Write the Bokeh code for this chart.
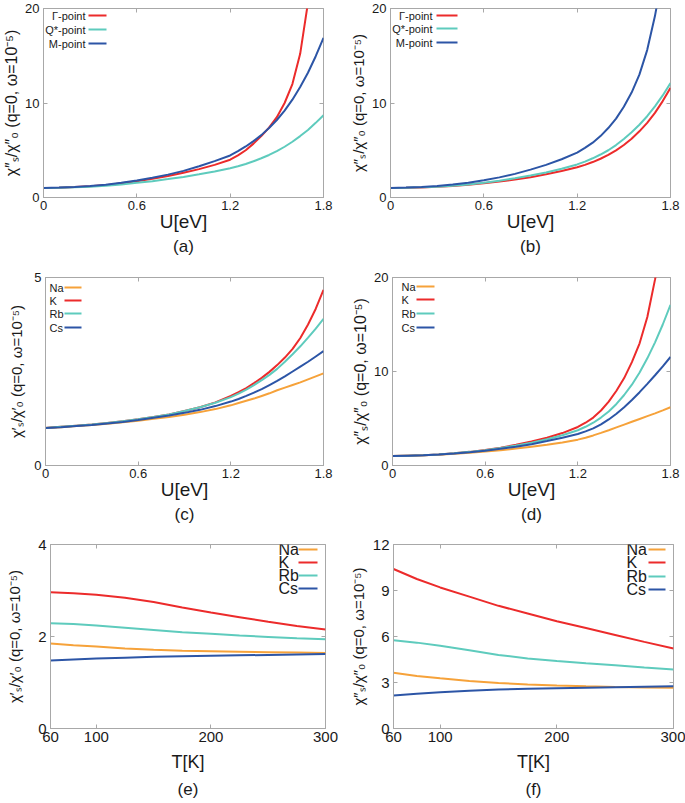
from bokeh.plotting import figure
from bokeh.layouts import column, row
from bokeh.models import Range1d, FixedTicker, LinearAxis, Label, Arrow, Title
from bokeh.embed import file_html
from bokeh.resources import INLINE

# ---------------- data ----------------
U_FULL = [0.0, 0.1, 0.2, 0.3, 0.4, 0.5, 0.6, 0.7, 0.8, 0.9, 1.0, 1.1,
          1.2, 1.25, 1.3, 1.35, 1.4, 1.45, 1.5, 1.55, 1.6, 1.65, 1.7, 1.75, 1.8]
U_TO_170 = [0.0, 0.1, 0.2, 0.3, 0.4, 0.5, 0.6, 0.7, 0.8, 0.9, 1.0, 1.1,
            1.2, 1.25, 1.3, 1.35, 1.4, 1.45, 1.5, 1.55, 1.6, 1.65, 1.7]
U_TO_172 = [0.0, 0.1, 0.2, 0.3, 0.4, 0.5, 0.6, 0.7, 0.8, 0.9, 1.0, 1.1,
            1.2, 1.25, 1.3, 1.35, 1.4, 1.45, 1.5, 1.55, 1.6, 1.65, 1.7, 1.72]

# (a) chi''_s / chi''_0 at symmetry points
a_gamma = [1.0, 1.04, 1.1, 1.19, 1.31, 1.5, 1.72, 1.98, 2.28, 2.62, 3.0, 3.45,
           4.0, 4.45, 5.0, 5.7, 6.5, 7.4, 8.5, 10.0, 12.0, 15.2, 20.6]
a_qstar = [1.0, 1.03, 1.08, 1.15, 1.25, 1.38, 1.55, 1.73, 1.95, 2.18, 2.45, 2.75,
           3.1, 3.3, 3.55, 3.83, 4.15, 4.5, 4.9, 5.37, 5.9, 6.5, 7.15, 7.9, 8.7]
a_m = [1.0, 1.05, 1.12, 1.22, 1.36, 1.56, 1.8, 2.08, 2.42, 2.82, 3.3, 3.85,
       4.45, 4.9, 5.4, 5.97, 6.6, 7.35, 8.2, 9.2, 10.35, 11.7, 13.2, 14.95, 16.9]

# (b)
b_gamma = [1.0, 1.03, 1.07, 1.13, 1.22, 1.34, 1.5, 1.69, 1.9, 2.15, 2.45, 2.8,
           3.2, 3.45, 3.75, 4.1, 4.5, 4.98, 5.55, 6.22, 7.0, 7.9, 8.95, 10.2, 11.6]
b_qstar = [1.0, 1.03, 1.08, 1.15, 1.25, 1.38, 1.57, 1.78, 2.03, 2.32, 2.65, 3.05,
           3.5, 3.8, 4.15, 4.55, 5.0, 5.55, 6.2, 6.9, 7.7, 8.6, 9.65, 10.8, 12.1]
b_m = [1.0, 1.05, 1.12, 1.22, 1.37, 1.57, 1.83, 2.13, 2.5, 2.95, 3.45, 4.05,
       4.75, 5.25, 5.8, 6.5, 7.35, 8.35, 9.6, 11.1, 13.0, 15.6, 19.2, 21.0]

# (c) chi'_s / chi'_0 for alkali dopants
c_na = [1.0, 1.02, 1.05, 1.08, 1.11, 1.15, 1.19, 1.24, 1.29, 1.35, 1.42, 1.5,
        1.6, 1.66, 1.72, 1.78, 1.85, 1.92, 2.0, 2.07, 2.14, 2.21, 2.29, 2.37, 2.45]
c_k = [1.0, 1.03, 1.06, 1.09, 1.13, 1.18, 1.23, 1.29, 1.36, 1.45, 1.55, 1.68,
       1.85, 1.95, 2.06, 2.19, 2.33, 2.49, 2.67, 2.87, 3.1, 3.39, 3.75, 4.17, 4.67]
c_rb = [1.0, 1.03, 1.06, 1.09, 1.13, 1.18, 1.23, 1.29, 1.36, 1.45, 1.55, 1.67,
        1.82, 1.91, 2.02, 2.14, 2.27, 2.41, 2.57, 2.76, 2.96, 3.17, 3.4, 3.64, 3.9]
c_cs = [1.0, 1.02, 1.05, 1.08, 1.12, 1.16, 1.21, 1.27, 1.33, 1.4, 1.48, 1.58,
        1.7, 1.77, 1.85, 1.94, 2.03, 2.14, 2.25, 2.37, 2.5, 2.63, 2.76, 2.9, 3.04]

# (d) chi''_s / chi''_0 for alkali dopants
d_na = [1.0, 1.04, 1.08, 1.15, 1.24, 1.35, 1.48, 1.63, 1.8, 1.99, 2.2, 2.45,
        2.75, 2.96, 3.2, 3.47, 3.75, 4.05, 4.35, 4.65, 4.95, 5.25, 5.55, 5.87, 6.2]
d_k = [1.0, 1.05, 1.1, 1.18, 1.3, 1.45, 1.65, 1.9, 2.2, 2.55, 2.95, 3.45,
       4.1, 4.55, 5.1, 5.85, 6.8, 7.95, 9.3, 11.0, 13.0, 15.8, 19.8, 21.5]
d_rb = [1.0, 1.05, 1.1, 1.18, 1.3, 1.45, 1.63, 1.86, 2.12, 2.43, 2.8, 3.22,
        3.75, 4.12, 4.55, 5.1, 5.75, 6.55, 7.5, 8.6, 9.9, 11.4, 13.1, 15.0, 17.1]
d_cs = [1.0, 1.05, 1.1, 1.17, 1.28, 1.41, 1.58, 1.77, 2.0, 2.27, 2.6, 2.95,
        3.35, 3.63, 3.95, 4.38, 4.9, 5.5, 6.2, 6.97, 7.8, 8.68, 9.6, 10.55, 11.55]

# (e),(f) temperature dependence
T = [60, 80, 100, 125, 150, 175, 200, 225, 250, 275, 300]
e_na = [1.85, 1.81, 1.78, 1.74, 1.71, 1.69, 1.68, 1.67, 1.66, 1.65, 1.64]
e_k = [2.96, 2.94, 2.91, 2.84, 2.75, 2.63, 2.52, 2.42, 2.32, 2.23, 2.15]
e_rb = [2.29, 2.27, 2.24, 2.19, 2.14, 2.09, 2.06, 2.02, 1.99, 1.96, 1.94]
e_cs = [1.48, 1.50, 1.52, 1.54, 1.56, 1.57, 1.58, 1.59, 1.60, 1.61, 1.62]

f_na = [3.63, 3.42, 3.27, 3.1, 2.97, 2.87, 2.8, 2.75, 2.71, 2.68, 2.65]
f_k = [10.4, 9.75, 9.2, 8.6, 8.0, 7.5, 7.0, 6.55, 6.1, 5.65, 5.22]
f_rb = [5.75, 5.6, 5.4, 5.1, 4.8, 4.57, 4.4, 4.25, 4.12, 3.98, 3.85]
f_cs = [2.16, 2.27, 2.37, 2.47, 2.54, 2.59, 2.63, 2.66, 2.69, 2.72, 2.75]

U_TICKS = [0, 0.6, 1.2, 1.8]
T_TICKS = [60, 100, 200, 300]

# ---------------- style ----------------
FONT = "Liberation Sans"
RED = "#ec2b2b"
TEAL = "#5ecbbd"
BLUE = "#2c55a6"
ORANGE = "#f6a23a"
FRAME = "#a8a8a8"
INK = "#1a1a1a"

YL2 = "χ″ₛ/χ″₀ (q=0, ω=10⁻⁵)"
YL1 = "χ′ₛ/χ′₀ (q=0, ω=10⁻⁵)"


def make_panel(w, h, borders, xr, yr, xticks, yticks, xlabel, ylabel, tag,
               tick_fs, xlab_fs, ylab_fs, yals, xals, tag_standoff):
    bl, br, bt, bb = borders
    p = figure(width=w, height=h, x_range=Range1d(*xr), y_range=Range1d(*yr),
               output_backend="svg", toolbar_location=None,
               min_border_left=bl, min_border_right=br, min_border_top=bt,
               min_border_bottom=bb, x_axis_label=xlabel, y_axis_label=ylabel)
    p.grid.visible = False
    p.outline_line_color = FRAME
    p.outline_line_width = 1
    p.background_fill_color = "white"
    p.border_fill_color = "white"
    for ax in (p.xaxis[0], p.yaxis[0]):
        ax.axis_line_color = FRAME
        ax.major_tick_line_color = FRAME
        ax.major_tick_in = 4
        ax.major_tick_out = 0
        ax.minor_tick_line_color = None
        ax.major_label_text_font = FONT
        ax.major_label_text_font_size = tick_fs
        ax.major_label_text_color = INK
        ax.axis_label_text_font = FONT
        ax.axis_label_text_font_style = "normal"
        ax.axis_label_text_color = INK
    p.xaxis[0].ticker = FixedTicker(ticks=xticks)
    p.yaxis[0].ticker = FixedTicker(ticks=yticks)
    p.xaxis[0].major_label_standoff = 3
    p.yaxis[0].major_label_standoff = 4
    p.xaxis[0].axis_label_text_font_size = xlab_fs
    p.yaxis[0].axis_label_text_font_size = ylab_fs
    p.xaxis[0].axis_label_standoff = xals
    p.yaxis[0].axis_label_standoff = yals
    # mirrored tick marks on top and right
    top = LinearAxis(ticker=FixedTicker(ticks=xticks), axis_line_color=None,
                     major_tick_line_color=FRAME, major_tick_in=4, major_tick_out=0,
                     minor_tick_line_color=None, major_label_standoff=0,
                     major_label_overrides={t: "" for t in xticks})
    right = LinearAxis(ticker=FixedTicker(ticks=yticks), axis_line_color=None,
                       major_tick_line_color=FRAME, major_tick_in=4, major_tick_out=0,
                       minor_tick_line_color=None, major_label_standoff=0,
                       major_label_overrides={t: "" for t in yticks})
    p.add_layout(top, "above")
    p.add_layout(right, "right")
    p.add_layout(Title(text=tag, align="center", text_font=FONT, text_font_size="17px",
                       text_font_style="normal", text_color=INK, standoff=tag_standoff), "below")
    return p


def add_legend(p, frame_h, items, text_x, text_align, line_x0, line_x1, rows, fs):
    for (name, color), r in zip(items, rows):
        yy = frame_h - r
        p.add_layout(Label(x=text_x, y=yy, x_units="screen", y_units="screen", text=name,
                           text_align=text_align, text_baseline="middle", text_font=FONT,
                           text_font_size=fs, text_color=INK))
        p.add_layout(Arrow(end=None, x_start=line_x0, y_start=yy, x_end=line_x1, y_end=yy,
                           start_units="screen", end_units="screen",
                           line_color=color, line_width=2))


LW = 2

# (a)
pa = make_panel(340, 265, (43, 17, 8, 68), (0, 1.8), (0, 20), U_TICKS, [0, 10, 20],
                "U[eV]", YL2, "(a)", "13px", "19px", "16px", 2, -2, 0)
pa.line(U_TO_170, a_gamma, color=RED, line_width=LW)
pa.line(U_FULL, a_qstar, color=TEAL, line_width=LW)
pa.line(U_FULL, a_m, color=BLUE, line_width=LW)
add_legend(pa, 189, [("Γ-point", RED), ("Q*-point", TEAL), ("M-point", BLUE)],
           42, "right", 45, 63, [7, 21, 35], "11px")

# (b)
pb = make_panel(345, 265, (50, 15, 8, 68), (0, 1.8), (0, 20), U_TICKS, [0, 10, 20],
                "U[eV]", YL2, "(b)", "13px", "19px", "15px", 2, -2, 0)
pb.line(U_FULL, b_gamma, color=RED, line_width=LW)
pb.line(U_FULL, b_qstar, color=TEAL, line_width=LW)
pb.line(U_TO_172, b_m, color=BLUE, line_width=LW)
add_legend(pb, 189, [("Γ-point", RED), ("Q*-point", TEAL), ("M-point", BLUE)],
           42, "right", 46, 67, [7, 20, 34], "11px")

# (c)
pc = make_panel(340, 270, (45, 17, 12, 70), (0, 1.8), (0, 5), U_TICKS, [0, 5],
                "U[eV]", YL1, "(c)", "13px", "19px", "15px", 6, -2, 0)
pc.line(U_FULL, c_na, color=ORANGE, line_width=LW)
pc.line(U_FULL, c_k, color=RED, line_width=LW)
pc.line(U_FULL, c_rb, color=TEAL, line_width=LW)
pc.line(U_FULL, c_cs, color=BLUE, line_width=LW)
add_legend(pc, 188, [("Na", ORANGE), ("K", RED), ("Rb", TEAL), ("Cs", BLUE)],
           4, "left", 19, 36, [10, 23, 36, 50], "11px")

# (d)
pd_ = make_panel(345, 270, (52, 15, 10, 70), (0, 1.8), (0, 20), U_TICKS, [0, 10, 20],
                 "U[eV]", YL2, "(d)", "13px", "19px", "16px", 2, -2, 0)
pd_.line(U_FULL, d_na, color=ORANGE, line_width=LW)
pd_.line(U_TO_172, d_k, color=RED, line_width=LW)
pd_.line(U_FULL, d_rb, color=TEAL, line_width=LW)
pd_.line(U_FULL, d_cs, color=BLUE, line_width=LW)
add_legend(pd_, 190, [("Na", ORANGE), ("K", RED), ("Rb", TEAL), ("Cs", BLUE)],
           9, "left", 24, 42, [11, 24, 38, 52], "11px")

# (e)
pe = make_panel(340, 268, (50, 15, 9, 75), (60, 300), (0, 4), T_TICKS, [0, 2, 4],
                "T[K]", YL1, "(e)", "15px", "18px", "15px", 12, 7, 6)
pe.line(T, e_na, color=ORANGE, line_width=LW)
pe.line(T, e_k, color=RED, line_width=LW)
pe.line(T, e_rb, color=TEAL, line_width=LW)
pe.line(T, e_cs, color=BLUE, line_width=LW)
add_legend(pe, 184, [("Na", ORANGE), ("K", RED), ("Rb", TEAL), ("Cs", BLUE)],
           228, "left", 248, 267, [5, 18, 31, 44], "16px")

# (f)
pf = make_panel(345, 268, (53, 12, 9, 75), (60, 300), (0, 12), T_TICKS, [0, 3, 6, 9, 12],
                "T[K]", YL2, "(f)", "15px", "18px", "15px", 3, 7, 6)
pf.line(T, f_na, color=ORANGE, line_width=LW)
pf.line(T, f_k, color=RED, line_width=LW)
pf.line(T, f_rb, color=TEAL, line_width=LW)
pf.line(T, f_cs, color=BLUE, line_width=LW)
add_legend(pf, 184, [("Na", ORANGE), ("K", RED), ("Rb", TEAL), ("Cs", BLUE)],
           233, "left", 255, 272, [5, 18, 32, 45], "16px")

layout = column(row(pa, pb), row(pc, pd_), row(pe, pf))

with open("out.html", "w") as fh:
    fh.write(file_html(layout, INLINE))
